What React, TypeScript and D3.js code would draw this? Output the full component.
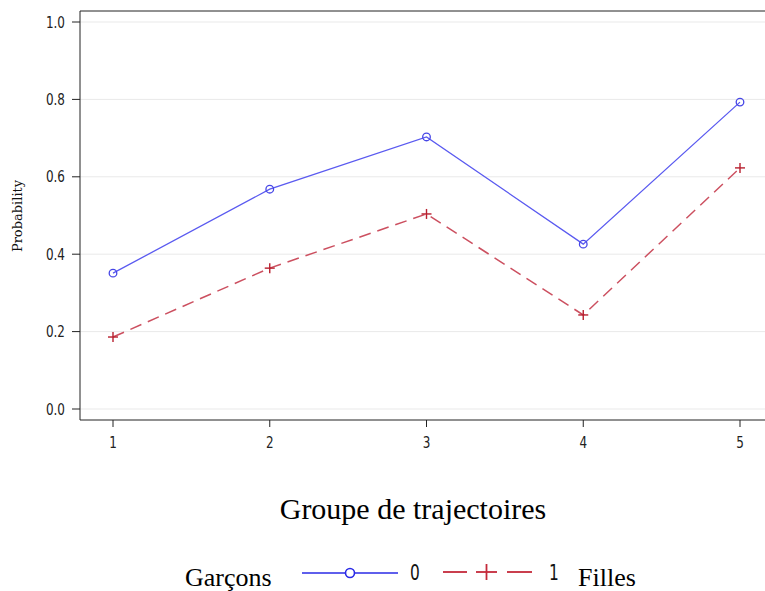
import React from "react";
import * as d3 from "d3";

// Probability by trajectory group, boys (0) vs girls (1)
const groups = [1, 2, 3, 4, 5];
const garcons = [0.351, 0.568, 0.703, 0.426, 0.793];
const filles = [0.186, 0.364, 0.504, 0.243, 0.623];
const yTicks = [0, 0.2, 0.4, 0.6, 0.8, 1.0];

const W = 765;
const H = 591;
const plot = { left: 80, right: 775, top: 11, bottom: 420 };

const BLUE = "#5a5af0";
const BLUE_MARK = "#4646e6";
const RED = "#cc5060";
const RED_MARK = "#b8202f";

// horizontally condensed text anchored at (x, y)
function Narrow(props: {
  x: number;
  y: number;
  sx: number;
  anchor?: "start" | "middle" | "end";
  size: number;
  family: string;
  fill?: string;
  children: React.ReactNode;
}) {
  const { x, y, sx, anchor = "start", size, family, fill = "#222", children } = props;
  return (
    <text
      transform={`translate(${x},${y}) scale(${sx},1)`}
      textAnchor={anchor}
      fontFamily={family}
      fontSize={size}
      fill={fill}
    >
      {children}
    </text>
  );
}

export default function App() {
  const x = d3.scaleLinear().domain([1, 5]).range([113, 740]);
  const y = d3.scaleLinear().domain([0, 1]).range([409, 22]);

  const line = d3
    .line<number>()
    .x((_, i) => x(groups[i]))
    .y((d) => y(d));

  const tickFont = "DejaVu Sans, sans-serif";
  const serif = "Liberation Serif, Times New Roman, serif";

  return (
    <svg
      width={W}
      height={H}
      style={{ position: "absolute", left: 0, top: 0, background: "#fff" }}
    >
      {/* gridlines */}
      {yTicks.map((t) => (
        <line
          key={"g" + t}
          x1={plot.left}
          x2={plot.right}
          y1={y(t)}
          y2={y(t)}
          stroke="#e9e9e9"
          strokeWidth={1}
        />
      ))}

      {/* frame */}
      <line x1={plot.left} x2={plot.right} y1={plot.top} y2={plot.top} stroke="#222" strokeWidth={1} />
      <line x1={plot.left} x2={plot.left} y1={plot.top} y2={plot.bottom} stroke="#222" strokeWidth={1} />
      <line x1={plot.left} x2={plot.right} y1={plot.bottom} y2={plot.bottom} stroke="#222" strokeWidth={1} />

      {/* y axis ticks */}
      {yTicks.map((t) => (
        <g key={"y" + t}>
          <line x1={plot.left - 8} x2={plot.left} y1={y(t)} y2={y(t)} stroke="#222" />
          <Narrow x={plot.left - 15} y={y(t) + 5.5} sx={0.8} anchor="end" size={15} family={tickFont}>
            {d3.format(".1f")(t)}
          </Narrow>
        </g>
      ))}

      {/* x axis ticks */}
      {groups.map((g) => (
        <g key={"x" + g}>
          <line x1={x(g)} x2={x(g)} y1={plot.bottom} y2={plot.bottom + 7} stroke="#222" />
          <Narrow x={x(g)} y={plot.bottom + 28} sx={0.8} anchor="middle" size={15} family={tickFont}>
            {g}
          </Narrow>
        </g>
      ))}

      {/* y axis title */}
      <text
        transform={`translate(22, 216) rotate(-90)`}
        textAnchor="middle"
        fontFamily="DejaVu Serif, serif"
        fontSize={13}
        fill="#111"
      >
        Probability
      </text>

      {/* series lines */}
      <path d={line(garcons) ?? ""} fill="none" stroke={BLUE} strokeWidth={1.3} />
      <path
        d={line(filles) ?? ""}
        fill="none"
        stroke={RED}
        strokeWidth={1.5}
        strokeDasharray="12,7"
      />

      {/* markers */}
      {garcons.map((v, i) => (
        <circle
          key={"c" + i}
          cx={x(groups[i])}
          cy={y(v)}
          r={3.8}
          fill="none"
          stroke={BLUE_MARK}
          strokeWidth={1.3}
        />
      ))}
      {filles.map((v, i) => {
        const cx = x(groups[i]);
        const cy = y(v);
        return (
          <g key={"p" + i} stroke={RED_MARK} strokeWidth={1.4}>
            <line x1={cx - 5} x2={cx + 5} y1={cy} y2={cy} />
            <line x1={cx} x2={cx} y1={cy - 5} y2={cy + 5} />
          </g>
        );
      })}

      {/* x axis title */}
      <text x={413} y={519} textAnchor="middle" fontFamily={serif} fontSize={30} fill="#000">
        Groupe de trajectoires
      </text>

      {/* legend */}
      <g>
        <text x={185} y={586} fontFamily={serif} fontSize={26} fill="#000">
          Garçons
        </text>
        <line x1={302} x2={398} y1={573} y2={573} stroke="#2a2ae6" strokeWidth={1.6} />
        <circle cx={350} cy={573} r={4.5} fill="#fff" stroke="#2a2ae6" strokeWidth={1.6} />
        <Narrow x={410} y={580} sx={0.7} size={22} family={tickFont} fill="#111">
          0
        </Narrow>
        <line x1={443} x2={467} y1={572} y2={572} stroke="#c42a3a" strokeWidth={1.8} />
        <line x1={507} x2={532} y1={572} y2={572} stroke="#c42a3a" strokeWidth={1.8} />
        <line x1={476} x2={497} y1={572} y2={572} stroke="#c42a3a" strokeWidth={1.8} />
        <line x1={486.5} x2={486.5} y1={564} y2={580} stroke="#c42a3a" strokeWidth={1.8} />
        <Narrow x={549} y={580} sx={0.7} size={22} family={tickFont} fill="#111">
          1
        </Narrow>
        <text x={578} y={586} fontFamily={serif} fontSize={26} fill="#000">
          Filles
        </text>
      </g>
    </svg>
  );
}
